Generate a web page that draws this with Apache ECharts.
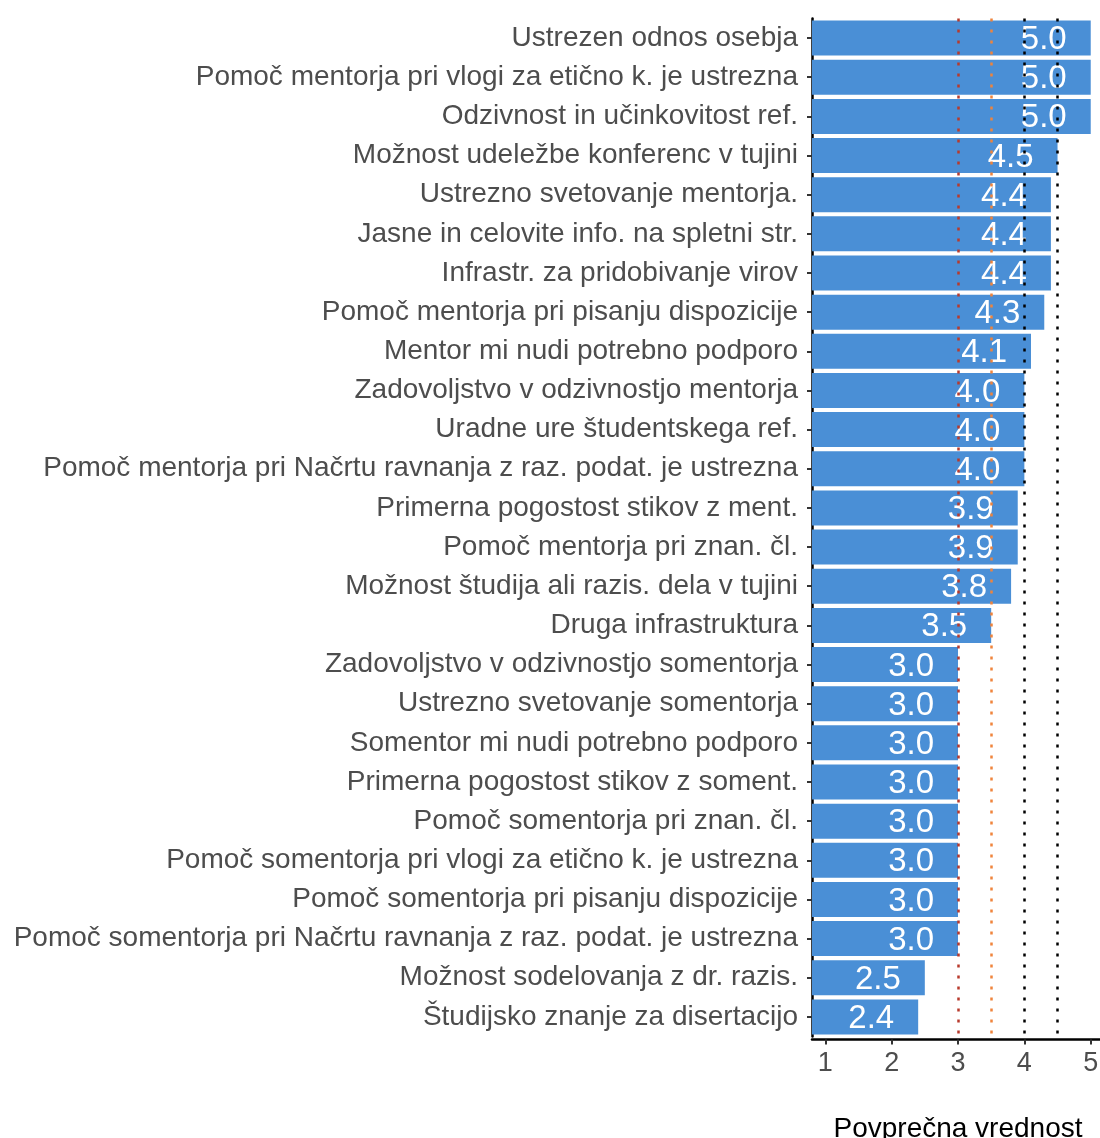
<!DOCTYPE html>
<html>
<head>
<meta charset="utf-8">
<script src="https://cdn.jsdelivr.net/npm/echarts@6/dist/echarts.min.js"></script>
<style>
  html, body { margin: 0; padding: 0; background: #fff; overflow: hidden; }
  #chart { width: 1110px; height: 1138px; }
</style>
</head>
<body>
<div id="chart"></div>
<script>
// kategorije od zgoraj navzdol
var categories = [
  'Ustrezen odnos osebja',
  'Pomoč mentorja pri vlogi za etično k. je ustrezna',
  'Odzivnost in učinkovitost ref.',
  'Možnost udeležbe konferenc v tujini',
  'Ustrezno svetovanje mentorja.',
  'Jasne in celovite info. na spletni str.',
  'Infrastr. za pridobivanje virov',
  'Pomoč mentorja pri pisanju dispozicije',
  'Mentor mi nudi potrebno podporo',
  'Zadovoljstvo v odzivnostjo mentorja',
  'Uradne ure študentskega ref.',
  'Pomoč mentorja pri Načrtu ravnanja z raz. podat. je ustrezna',
  'Primerna pogostost stikov z ment.',
  'Pomoč mentorja pri znan. čl.',
  'Možnost študija ali razis. dela v tujini',
  'Druga infrastruktura',
  'Zadovoljstvo v odzivnostjo somentorja',
  'Ustrezno svetovanje somentorja',
  'Somentor mi nudi potrebno podporo',
  'Primerna pogostost stikov z soment.',
  'Pomoč somentorja pri znan. čl.',
  'Pomoč somentorja pri vlogi za etično k. je ustrezna',
  'Pomoč somentorja pri pisanju dispozicije',
  'Pomoč somentorja pri Načrtu ravnanja z raz. podat. je ustrezna',
  'Možnost sodelovanja z dr. razis.',
  'Študijsko znanje za disertacijo'
]
var values = [5.0, 5.0, 5.0, 4.5, 4.4, 4.4, 4.4, 4.3, 4.1, 4.0, 4.0, 4.0, 3.9, 3.9, 3.8, 3.5,
  3.0, 3.0, 3.0, 3.0, 3.0, 3.0, 3.0, 3.0, 2.5, 2.4]
var xTicks = [1, 2, 3, 4, 5]
// referenčne črte
var refLines = [3, 3.5, 4, 4.5]
var refColors = ['#b83a2c', '#f0843c', '#000000', '#000000']

var chart = echarts.init(document.getElementById('chart'))

chart.setOption({
  animation: false,
  grid: {
    left: 812,
    top: 18.5,
    width: 292,
    height: 1018,
    outerBoundsMode: 'none',
    containLabel: false
  },
  xAxis: {
    type: 'value',
    min: 0.8,
    max: 5.2,
    offset: 3,
    name: 'Povprečna vrednost',
    nameLocation: 'middle',
    nameGap: 76,
    nameTextStyle: { color: '#000', fontSize: 28, fontFamily: 'Liberation Sans' },
    splitLine: { show: false },
    axisLine: { show: true, lineStyle: { color: '#000', width: 2.5 } },
    axisTick: { show: true, length: 5, lineStyle: { color: '#333', width: 2 }, customValues: xTicks },
    axisLabel: {
      color: '#4d4d4d', fontSize: 27, fontFamily: 'Liberation Sans', margin: 11,
      customValues: xTicks
    }
  },
  yAxis: {
    type: 'category',
    inverse: true,
    data: categories,
    axisLine: { show: true, lineStyle: { color: '#000', width: 2.5 } },
    axisTick: { show: true, alignWithLabel: true, length: 5, lineStyle: { color: '#333', width: 2 } },
    axisLabel: {
      color: '#4d4d4d', fontSize: 28, fontFamily: 'Liberation Sans', margin: 14, interval: 0,
      padding: [3, 0, 0, 0]
    }
  },
  series: [{
    type: 'bar',
    data: values,
    barWidth: 35,
    itemStyle: { color: '#4a8fd6' },
    label: {
      show: true,
      position: 'insideRight',
      distance: 24,
      offset: [0, 2],
      color: '#fff',
      fontSize: 33,
      fontFamily: 'Liberation Sans',
      formatter: function (p) { return p.value.toFixed(1) }
    },
    markLine: {
      silent: true,
      symbol: 'none',
      label: { show: false },
      data: refLines.map(function (v, i) {
        return { xAxis: v, lineStyle: { color: refColors[i], type: [3, 8], width: 2.5 } }
      })
    }
  }]
})
</script>
</body>
</html>
